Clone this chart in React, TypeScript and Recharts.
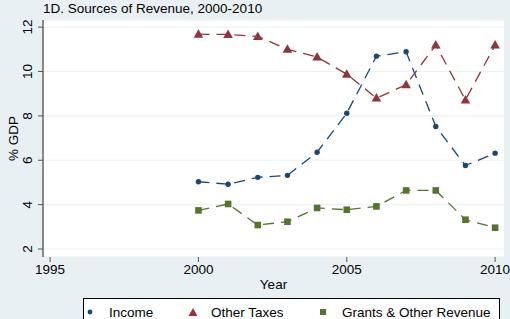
import React from 'react'
import { LineChart, Line, XAxis, YAxis, CartesianGrid } from 'recharts'

const years = [2000, 2001, 2002, 2003, 2004, 2005, 2006, 2007, 2008, 2009, 2010]
const income = [5.03, 4.92, 5.23, 5.32, 6.36, 8.12, 10.69, 10.89, 7.52, 5.76, 6.32]
const otherTaxes = [11.68, 11.67, 11.58, 11.0, 10.65, 9.88, 8.8, 9.4, 11.19, 8.72, 11.19]
const grants = [3.74, 4.03, 3.08, 3.23, 3.85, 3.77, 3.92, 4.64, 4.64, 3.32, 2.96]
const xTicks = [1995, 2000, 2005, 2010]
const yTicks = [2, 4, 6, 8, 10, 12]

const NAVY = '#1a476f'
const MAROON = '#90353b'
const GREEN = '#55752f'
const BG = '#e9f0f3'
const FONT = '"Liberation Sans", Arial, sans-serif'
const FS = 13.5

const data = years.map((y, i) => ({
  year: y,
  income: income[i],
  otherTaxes: otherTaxes[i],
  grants: grants[i],
}))

const CircleDot = (props: any) => {
  const { cx, cy } = props
  return <circle cx={cx} cy={cy} r={2.7} fill={NAVY} />
}

const TriDot = (props: any) => {
  const { cx, cy } = props
  return <polygon points={`${cx},${cy - 5} ${cx - 4.8},${cy + 3.5} ${cx + 4.8},${cy + 3.5}`} fill={MAROON} />
}

const SquareDot = (props: any) => {
  const { cx, cy } = props
  return <rect x={cx - 3.3} y={cy - 3.3} width={6.6} height={6.6} fill={GREEN} />
}

// y tick labels read bottom-to-top like the original
const YTick = (props: any) => {
  const { x, y, payload } = props
  return (
    <text x={x - 4} y={y} transform={`rotate(-90 ${x - 4} ${y})`} textAnchor="middle" fontSize={FS} fontFamily={FONT} fill="#000">
      {payload.value}
    </text>
  )
}

export default function App() {
  return (
    <div style={{ position: 'fixed', left: 0, top: 0, width: 510, height: 319, background: BG, overflow: 'hidden', fontFamily: FONT }}>
      <div style={{ position: 'absolute', left: 43, top: 1, fontSize: FS, color: '#000' }}>
        1D. Sources of Revenue, 2000-2010
      </div>
      <LineChart width={510} height={319} data={data} margin={{ top: 20, right: 6, bottom: 0, left: 0 }}>
        <CartesianGrid vertical={false} stroke="#eaf2f3" strokeWidth={1.2} fill="#ffffff" />
        <XAxis
          dataKey="year"
          type="number"
          domain={[1994.76, 2010.3]}
          ticks={xTicks}
          allowDataOverflow
          height={62}
          axisLine={false}
          tickLine={{ stroke: '#555' }}
          tickSize={5}
          tick={{ fontSize: FS, fontFamily: FONT, fill: '#000' }}
          label={{ value: 'Year', position: 'insideTop', offset: 22, fontSize: FS, fontFamily: FONT, fill: '#000' }}
        />
        <YAxis
          type="number"
          domain={[1.64, 12.32]}
          ticks={yTicks}
          allowDataOverflow
          width={43}
          axisLine={{ stroke: '#888', strokeWidth: 2 }}
          tickLine={{ stroke: '#555' }}
          tickSize={5}
          tick={<YTick />}
          label={{ value: '% GDP', angle: -90, position: 'insideLeft', offset: 13, fontSize: FS, fontFamily: FONT, fill: '#000', style: { textAnchor: 'middle' } }}
        />
        <Line dataKey="income" stroke={NAVY} strokeWidth={1.3} strokeDasharray="11 7" dot={<CircleDot />} isAnimationActive={false} />
        <Line dataKey="otherTaxes" stroke={MAROON} strokeWidth={1.3} strokeDasharray="11 7" dot={<TriDot />} isAnimationActive={false} />
        <Line dataKey="grants" stroke={GREEN} strokeWidth={1.3} strokeDasharray="11 7" dot={<SquareDot />} isAnimationActive={false} />
      </LineChart>
      <div style={{ position: 'absolute', left: 83, top: 298, width: 415, height: 40, border: '1px solid #000', background: '#fff' }}>
        <svg width={415} height={40} style={{ position: 'absolute', left: 0, top: 0 }}>
          <circle cx={6} cy={13} r={2.4} fill={NAVY} />
          <polygon points="109,9 104.5,17 113.5,17" fill={MAROON} />
          <rect x={236} y={10} width={6} height={6} fill={GREEN} />
          <text x={25} y={18} fontSize={FS} fontFamily={FONT}>Income</text>
          <text x={127} y={18} fontSize={FS} fontFamily={FONT}>Other Taxes</text>
          <text x={258} y={18} fontSize={FS} fontFamily={FONT}>Grants &amp; Other Revenue</text>
        </svg>
      </div>
    </div>
  )
}
